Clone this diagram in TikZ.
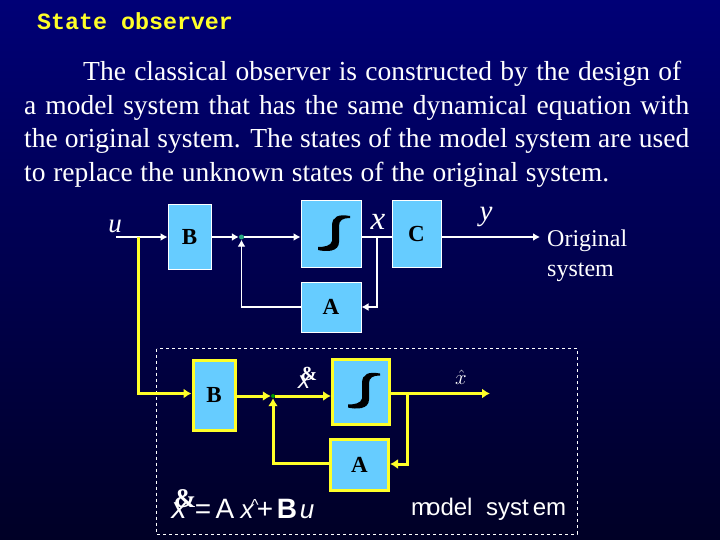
\documentclass[tikz,border=0pt]{standalone}
\usepackage{fontspec}
\usetikzlibrary{arrows.meta}
\setmainfont{Liberation Serif}
\newfontfamily\titlefont{Liberation Mono}
\newfontfamily\eqfont{Liberation Sans}
\definecolor{slidetop}{RGB}{0,0,118}
\definecolor{slidebot}{RGB}{0,0,38}
\definecolor{boxblue}{RGB}{102,204,255}
\definecolor{wireyellow}{RGB}{255,255,40}
\definecolor{dotgreen}{RGB}{40,170,130}
\newcommand{\fs}[1]{\fontsize{#1}{#1}\selectfont}
\tikzset{
  whitebox/.style={draw=white,line width=1pt,fill=boxblue,inner sep=0pt,font=\fs{23}\bfseries},
  yellowbox/.style={draw=wireyellow,line width=3pt,fill=boxblue,inner sep=0pt,font=\fs{23}\bfseries},
  whitewire/.style={draw=white,line width=1.6pt,>={Latex[length=7pt,width=8pt]}},
  yellowwire/.style={draw=wireyellow,line width=3pt,>={Latex[length=8pt,width=10pt]}},
  junct/.style={circle,fill=dotgreen,inner sep=0pt,minimum size=5pt},
  lbl/.style={text=white,inner sep=0pt},
  eqtxt/.style={text=white,inner sep=0pt,anchor=base,font=\fs{28}\eqfont},
  intmark/.pic={
    \fill[black] (19,-18) .. controls (8,-20) and (1,-18) .. (1,-8) -- (1,7)
      .. controls (0,12) and (-7,13) .. (-13,13) -- (-13,16)
      .. controls (-5,18) and (8,18) .. (8,8) -- (8,-8)
      .. controls (8,-14) and (12,-16) .. (19,-16) -- cycle;
  }
}
\begin{document}
\begin{tikzpicture}[x=1pt,y=-1pt]
  \shade[top color=slidetop,bottom color=slidebot] (0,0) rectangle (720,540);
  \node[anchor=base west,inner sep=0pt,text=wireyellow,font=\fs{23.3}\bfseries\titlefont] (title) at (37,30) {State observer};
  % text lines: x, baseline, width
  \foreach \n/\x/\y/\lw/\txt in {
    1/83/81/598/The classical observer is constructed by the design of,
    2/24/115/665/a model system that has the same dynamical equation with,
    3/24/148/665/the original system. The states of the model system are used,
    4/24/182/585/to replace the unknown states of the original system.} {
    \node[anchor=base west,inner sep=0pt,text=white,font=\fs{27.5}] (line\n) at (\x,\y) {\makebox[\lw pt][s]{\txt}};
  }
  % original system
  \node[whitebox,minimum width=43pt,minimum height=64pt] (b1) at (189.5,237) {B};
  \node[whitebox,minimum width=60pt,minimum height=66pt] (int1) at (331,234) {};
  \node[whitebox,minimum width=49pt,minimum height=66pt] (c1) at (416.5,234) {C};
  \node[whitebox,minimum width=60pt,minimum height=50pt] (a1) at (331,307) {A};
  \node[junct] (sum1) at (241.5,237) {};
  \pic at (int1.center) {intmark};
  \coordinate (uin) at (116,237);
  \coordinate (utap) at (138,237);
  \coordinate (xtap) at (377,237);
  \coordinate (yout) at (540,237);
  \draw[whitewire,->] (uin) -- (b1.west |- uin);
  \draw[whitewire,->] (b1.east |- uin) -- (sum1);
  \draw[whitewire,->] (sum1) -- (int1.west |- sum1);
  \draw[whitewire] (int1.east |- xtap) -- (c1.west |- xtap);
  \draw[whitewire,->] (c1.east |- yout) -- (yout);
  \draw[whitewire,->] (xtap) |- (a1.east);
  \draw[whitewire,->] (a1.west) -| (sum1.south);
  \node[lbl,font=\fs{27}\itshape] (ulbl) at (115,226) {u};
  \node[lbl,font=\fs{33}\itshape] (xlbl) at (378,222) {x};
  \node[lbl,font=\fs{29}\itshape] (ylbl) at (486,217) {y};
  \node[lbl,anchor=base west,font=\fs{24}] (orig1) at (547,246) {Original};
  \node[lbl,anchor=base west,font=\fs{24}] (orig2) at (547,276) {system};
  % model system
  \draw[white,dashed,line width=0.8pt] (156.5,348.5) rectangle (577,534);
  \node[yellowbox,minimum width=42pt,minimum height=70pt] (b2) at (214,395.5) {B};
  \node[yellowbox,minimum width=57pt,minimum height=65pt] (int2) at (361,391.5) {};
  \node[yellowbox,minimum width=58pt,minimum height=51pt] (a2) at (359.5,465) {A};
  \node[junct,fill=green!60!black,minimum size=4pt] (sum2) at (273,396) {};
  \pic at (int2.center) {intmark};
  \coordinate (xhtap) at (407,393.5);
  \coordinate (xhout) at (490,393.5);
  \draw[yellowwire,->] (utap) |- (b2.west |- 0,393.5);
  \draw[yellowwire,->] (b2.east |- sum2) -- (sum2);
  \draw[yellowwire,->] (sum2) -- (int2.west |- sum2);
  \draw[yellowwire,->] (int2.east |- xhout) -- (xhout);
  \draw[yellowwire,->] (xhtap) |- (a2.east |- 0,464);
  \draw[yellowwire,->] (a2.west |- 0,463) -| (sum2.south);
  \node[lbl,font=\fs{20}\bfseries] (dot1) at (309,374) {\&};
  \node[lbl,font=\fs{24}\itshape\eqfont] (xd1) at (304,382) {x};
  \node[lbl,font=\fs{20.74}] (xh1) at (461,377) {$\hat{x}$};
  % equation and caption
  \node[lbl,font=\fs{27}\bfseries] (dot2) at (185,499) {\&};
  \node[lbl,font=\fs{30}\itshape\eqfont] (xd2) at (179,511) {x};
  \foreach \n/\x/\txt in {eq/203/=, a/225/A, b/287/\textbf{B}, pl/265/+} {
    \node[eqtxt] (eq\n) at (\x,518) {\txt};
  }
  \node[eqtxt,font=\fs{26}\itshape\eqfont] (eqx) at (247,518) {x};
  \node[eqtxt,font=\fs{16}\eqfont] (eqh) at (255,510) {\^{}};
  \node[eqtxt,font=\fs{26}\itshape\eqfont] (equ) at (307,518) {u};
  \node[eqtxt,anchor=base west,font=\fs{24}\eqfont] (cap1) at (411,515) {m\kern-4pt odel};
  \node[eqtxt,anchor=base west,font=\fs{24}\eqfont] (cap2) at (486,515) {syst\kern4pt em};
\end{tikzpicture}
\end{document}
